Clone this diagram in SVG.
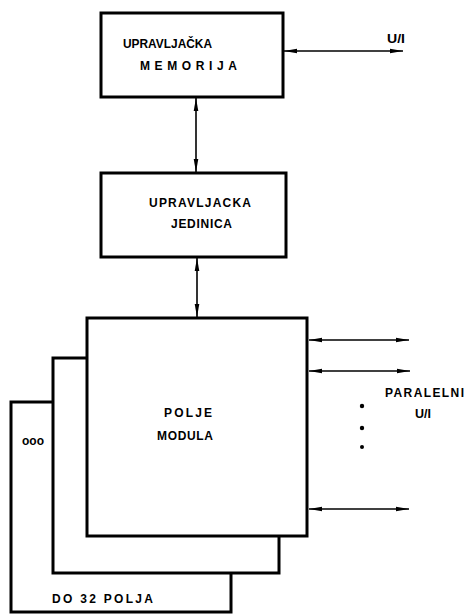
<svg xmlns="http://www.w3.org/2000/svg" width="465" height="614" viewBox="0 0 465 614">
<style>
.box{fill:#fff;stroke:#000;stroke-width:3}
.con{stroke:#000;stroke-width:1.6;fill:none}
.t{font-family:"Liberation Sans",Arial,sans-serif;font-weight:bold;font-size:12px;fill:#000}
</style>
<defs>
<marker id="ah" viewBox="0 0 13 6" refX="13" refY="3" markerWidth="13" markerHeight="6" markerUnits="userSpaceOnUse" orient="auto-start-reverse">
<path d="M0,0.7 L13,3 L0,5.3 z" fill="#000"/>
</marker>
</defs>
<rect width="465" height="614" fill="#fff"/>
<g id="connectors">
<line class="con" x1="284" y1="51" x2="403" y2="51" marker-start="url(#ah)" marker-end="url(#ah)"/>
<line class="con" x1="196" y1="98" x2="196" y2="172" marker-start="url(#ah)" marker-end="url(#ah)"/>
<line class="con" x1="197" y1="258" x2="197" y2="317" marker-start="url(#ah)" marker-end="url(#ah)"/>
<line class="con" x1="309" y1="340" x2="409" y2="340" marker-start="url(#ah)" marker-end="url(#ah)"/>
<line class="con" x1="309" y1="371" x2="410" y2="371" marker-start="url(#ah)" marker-end="url(#ah)"/>
<line class="con" x1="309" y1="509" x2="409" y2="509" marker-start="url(#ah)" marker-end="url(#ah)"/>
</g>
<g id="memorija">
<rect class="box" x="101" y="13" width="182" height="84"/>
<text class="t" x="123" y="48" textLength="89" lengthAdjust="spacingAndGlyphs">UPRAVLJAČKA</text>
<text class="t" x="140" y="70" font-size="10" textLength="97" lengthAdjust="spacing">MEMORIJA</text>
</g>
<text class="t" x="387" y="43" textLength="18" lengthAdjust="spacingAndGlyphs">U/I</text>
<g id="jedinica">
<rect class="box" x="101" y="173" width="185" height="84"/>
<text class="t" x="149" y="207" textLength="102" lengthAdjust="spacing">UPRAVLJACKA</text>
<text class="t" x="171" y="228" textLength="61" lengthAdjust="spacing">JEDINICA</text>
</g>
<g id="polje3">
<rect class="box" x="11" y="402" width="220" height="210"/>
<text class="t" x="22" y="445" font-size="9" textLength="22" lengthAdjust="spacing">ooo</text>
<text class="t" x="52" y="603" textLength="101" lengthAdjust="spacing">DO 32 POLJA</text>
</g>
<g id="polje2">
<rect class="box" x="53" y="358" width="226" height="215"/>
</g>
<g id="polje1">
<rect class="box" x="87" y="318" width="220" height="218"/>
<text class="t" x="164" y="417" textLength="48" lengthAdjust="spacing">POLJE</text>
<text class="t" x="157" y="440" textLength="56" lengthAdjust="spacing">MODULA</text>
</g>
<g id="paralelni">
<text class="t" x="385" y="397" textLength="79" lengthAdjust="spacing">PARALELNI</text>
<text class="t" x="415" y="418" textLength="16" lengthAdjust="spacingAndGlyphs">U/I</text>
<circle cx="362" cy="406" r="2.2"/>
<circle cx="362" cy="428" r="2.2"/>
<circle cx="362" cy="447" r="2"/>
</g>
</svg>
